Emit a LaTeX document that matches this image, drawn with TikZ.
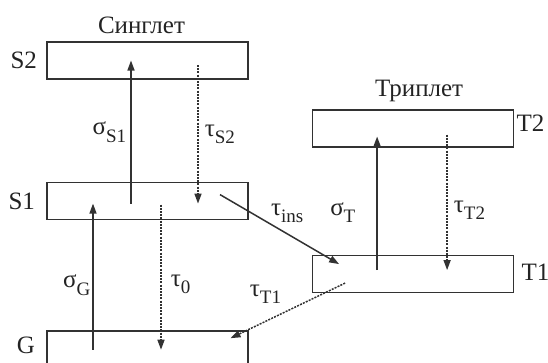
\documentclass[tikz,border=0pt]{standalone}
\usepackage{fontspec}
\setmainfont{Liberation Serif}
\usetikzlibrary{
  arrows.meta,
  positioning,
  calc
}
\definecolor{linecolor}{RGB}{50, 50, 50}
\definecolor{labelcolor}{RGB}{35, 35, 35}
\newcommand{\ratesub}[1]{\raisebox{-0.3em}{\fontsize{19}{19}\selectfont #1}}
\tikzset{
levelbox/.style={
  draw=linecolor,
  line width=1.6pt,
  minimum width=201pt,
  minimum height=37pt,
  inner sep=0pt
},
leveltext/.style={
  font=\fontsize{25}{28}\selectfont,
  text=labelcolor,
  inner sep=1pt
},
ratetext/.style={
  leveltext
},
solidarrow/.style={
  -{Triangle[length=10pt,width=7pt]},
  line width=1.5pt,
  draw=linecolor
},
dashedarrow/.style={
  solidarrow,
  dash pattern=on 2pt off 1.2pt
}
}
\begin{document}
\begin{tikzpicture}[x=1pt, y=-1pt]
  \useasboundingbox (0,0) rectangle (548,362);

  % Singlet levels
  \node[levelbox] (S2) at (147.5,60.5) {};
  \node[levelbox, below=102pt of S2] (S1) {};
  \node[levelbox, below=110pt of S1] (G) {};

  % Triplet levels
  \node[levelbox, right=63pt of S2, yshift=-68pt] (T2) {};
  \node[levelbox, below=107pt of T2] (T1) {};

  % Titles
  \node[leveltext, above=6pt of S2, xshift=-6pt] (singlet) {Синглет};
  \node[leveltext, above=6pt of T2, xshift=6pt] (triplet) {Триплет};

  % Level names
  \node[leveltext, left=8pt of S2] (S2name) {S2};
  \node[leveltext, left=10pt of S1] (S1name) {S1};
  \node[leveltext, left=10pt of G, yshift=4pt] (Gname) {G};
  \node[leveltext, right=1pt of T2, yshift=5pt] (T2name) {T2};
  \node[leveltext, right=6pt of T1, yshift=2pt] (T1name) {T1};

  % Singlet transitions
  \draw[solidarrow] ([xshift=-16.5pt,yshift=-2.5pt]S1.center) -- ([xshift=-16.5pt]S2.center)
    node[ratetext, pos=0.5, left=3pt] {σ\ratesub{S1}};
  \draw[dashedarrow] ([xshift=50.5pt,yshift=-4.5pt]S2.center) -- ([xshift=50.5pt,yshift=-2.5pt]S1.center)
    node[ratetext, pos=0.5, right=5pt] {τ\ratesub{S2}};
  \draw[solidarrow] ([xshift=-54.5pt]G.center) -- ([xshift=-54.5pt,yshift=-2.5pt]S1.center)
    node[ratetext, pos=0.44, left=1pt] {σ\ratesub{G}};
  \draw[dashedarrow] ([xshift=13.5pt,yshift=-3.5pt]S1.center) -- ([xshift=13.5pt]G.center)
    node[ratetext, pos=0.55, right=8pt] {τ\ratesub{0}};

  % Triplet transitions
  \draw[solidarrow] ([xshift=-36pt,yshift=4pt]T1.center) -- ([xshift=-36pt,yshift=-8pt]T2.center)
    node[ratetext, pos=0.43, left=20pt] {σ\ratesub{T}};
  \draw[dashedarrow] ([xshift=34pt,yshift=-6pt]T2.center) -- ([xshift=34pt,yshift=4pt]T1.center)
    node[ratetext, pos=0.56, right=5pt] {τ\ratesub{T2}};

  % Intersystem crossing
  \draw[solidarrow] ([xshift=72.5pt,yshift=6.5pt]S1.center) -- ([xshift=-74pt,yshift=10pt]T1.center)
    node[ratetext, pos=0.42, above right=-1pt] {τ\ratesub{ins}};
  \draw[dashedarrow] ([xshift=-68pt,yshift=-9pt]T1.center) -- ([xshift=83pt,yshift=11.5pt]G.center)
    node[ratetext, pos=0.5, above left=7pt] {τ\ratesub{T1}};
\end{tikzpicture}
\end{document}
